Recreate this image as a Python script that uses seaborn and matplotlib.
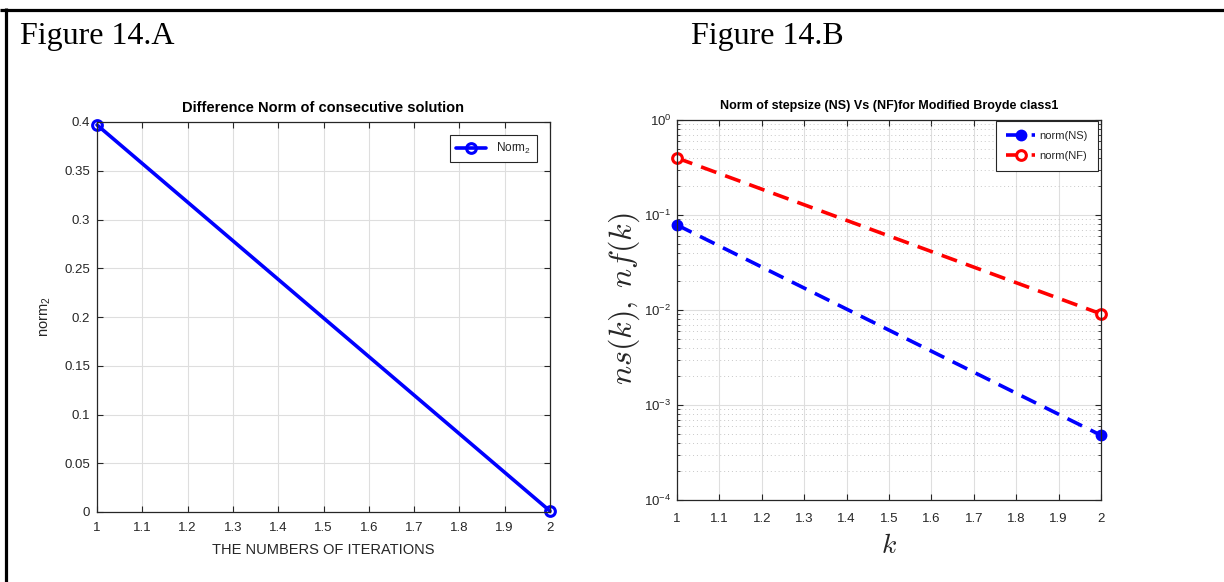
import numpy as np
import pandas as pd
import matplotlib
matplotlib.use("Agg")
import matplotlib.pyplot as plt
from matplotlib.lines import Line2D
from matplotlib.ticker import LogLocator, NullFormatter, FixedLocator
import seaborn as sns

# ---------------- data ----------------
iterations = [1, 2]
norm2 = [0.397, 0.001]
k_vals = [1, 2]
norm_ns = [0.0785, 0.00048]
norm_nf = [0.398, 0.0091]
x_ticks = [1, 1.1, 1.2, 1.3, 1.4, 1.5, 1.6, 1.7, 1.8, 1.9, 2]
x_tick_labels = ["1", "1.1", "1.2", "1.3", "1.4", "1.5", "1.6", "1.7", "1.8", "1.9", "2"]
y_ticks_a = [0, 0.05, 0.1, 0.15, 0.2, 0.25, 0.3, 0.35, 0.4]
y_tick_labels_a = ["0", "0.05", "0.1", "0.15", "0.2", "0.25", "0.3", "0.35", "0.4"]

sns.set_style("ticks")
plt.rcParams["font.family"] = ["Liberation Sans", "DejaVu Sans"]
plt.rcParams["axes.unicode_minus"] = False

DARK = "#262626"
GRID = "#dedede"

fig = plt.figure(figsize=(12.24, 5.82), dpi=100)

# frame lines of the figure
fig.add_artist(Line2D([0.0, 1.0], [1 - 9.5 / 582, 1 - 9.5 / 582], transform=fig.transFigure,
                      color="black", lw=2.3, solid_capstyle="butt"))
fig.add_artist(Line2D([5.5 / 1224, 5.5 / 1224], [0.0, 1 - 8 / 582], transform=fig.transFigure,
                      color="black", lw=2.3, solid_capstyle="butt"))

fig.text(20 / 1224, 1 - 44 / 582, "Figure 14.A", family="Liberation Serif", fontsize=23,
         va="baseline", ha="left", color="black")
fig.text(691 / 1224, 1 - 44 / 582, "Figure 14.B", family="Liberation Serif", fontsize=23,
         va="baseline", ha="left", color="black")


def style_axes(ax, xpad, ypad):
    for sp in ax.spines.values():
        sp.set_visible(True)
        sp.set_color(DARK)
        sp.set_linewidth(0.9)
    ax.tick_params(which="both", direction="in", top=True, right=True, colors=DARK,
                   labelsize=9.5, labelcolor=DARK)
    ax.tick_params(which="major", length=4, width=0.8)
    ax.tick_params(which="minor", length=2.2, width=0.6)
    ax.tick_params(axis="x", which="both", pad=xpad)
    ax.tick_params(axis="y", which="both", pad=ypad)


# ---------------- Figure 14.A ----------------
ax1 = fig.add_axes([97 / 1224, 1 - 512 / 582, 453 / 1224, 390 / 582])
dfa = pd.DataFrame({"it": iterations, "norm": norm2})
sns.lineplot(data=dfa, x="it", y="norm", ax=ax1, color="#0000ff", lw=2.6, marker="o",
             markersize=7, markerfacecolor="none", markeredgecolor="#0000ff",
             markeredgewidth=2.2, label="Norm$_\\mathdefault{2}$", clip_on=False)
ax1.set_xlim(1, 2)
ax1.set_ylim(0, 0.4)
ax1.xaxis.set_major_locator(FixedLocator(x_ticks))
ax1.set_xticklabels(x_tick_labels)
ax1.yaxis.set_major_locator(FixedLocator(y_ticks_a))
ax1.set_yticklabels(y_tick_labels_a)
ax1.grid(True, which="major", color=GRID, lw=0.8)
ax1.set_axisbelow(True)
style_axes(ax1, xpad=7.5, ypad=5)
ax1.set_title("Difference Norm of consecutive solution", fontsize=10.5, fontweight="bold",
              color="black", pad=7)
ax1.set_xlabel("THE NUMBERS OF ITERATIONS", fontsize=10.5, color=DARK, labelpad=6)
ax1.set_ylabel("norm$_\\mathdefault{2}$", fontsize=10.5, color=DARK, labelpad=8)
leg1 = ax1.legend(loc="upper right", bbox_to_anchor=(0.971, 0.967), borderaxespad=0,
                  fontsize=8.5, fancybox=False, framealpha=1, edgecolor=DARK,
                  handlelength=2.6, borderpad=0.5)
leg1.get_frame().set_linewidth(0.8)

# ---------------- Figure 14.B ----------------
ax2 = fig.add_axes([677 / 1224, 1 - 500 / 582, 424 / 1224, 380 / 582])
dfb = pd.DataFrame({"k": k_vals, "ns": norm_ns, "nf": norm_nf})
sns.lineplot(data=dfb, x="k", y="ns", ax=ax2, color="#0000ff", lw=2.6,
             linestyle=(0, (4.5, 2.6)), marker="o", markersize=7, markerfacecolor="#0000ff",
             markeredgecolor="#0000ff", markeredgewidth=1.5, label="norm(NS)", clip_on=False)
sns.lineplot(data=dfb, x="k", y="nf", ax=ax2, color="#ff0000", lw=2.6,
             linestyle=(0, (4.5, 2.6)), marker="o", markersize=7, markerfacecolor="white",
             markeredgecolor="#ff0000", markeredgewidth=2.2, label="norm(NF)", clip_on=False)
ax2.set_yscale("log")
ax2.set_xlim(1, 2)
ax2.set_ylim(1e-4, 1)
ax2.xaxis.set_major_locator(FixedLocator(x_ticks))
ax2.set_xticklabels(x_tick_labels)
ax2.yaxis.set_major_locator(LogLocator(base=10, numticks=10))
ax2.yaxis.set_minor_locator(LogLocator(base=10, subs=np.arange(2, 10), numticks=20))
ax2.yaxis.set_minor_formatter(NullFormatter())
ax2.grid(True, which="major", color=GRID, lw=0.8)
ax2.grid(True, which="minor", axis="y", color="#c8c8c8", lw=0.7, linestyle=(0, (1, 3)))
ax2.set_axisbelow(True)
style_axes(ax2, xpad=9, ypad=4)
ax2.set_title("Norm of stepsize (NS) Vs (NF)for Modified Broyde class1", fontsize=9,
              fontweight="bold", color="black", pad=8)
ax2.set_xlabel("$k$", fontsize=20, color=DARK, math_fontfamily="cm", labelpad=6)
ax2.set_ylabel("$ns(k),\\;nf(k)$", fontsize=23, color=DARK, math_fontfamily="cm",
               labelpad=0)
ax2.yaxis.set_label_coords(-0.082, 0.53)
leg2 = ax2.legend(loc="upper right", bbox_to_anchor=(0.993, 0.997), borderaxespad=0,
                  fontsize=8, fancybox=False, framealpha=1, edgecolor=DARK,
                  handlelength=2.6, borderpad=0.9, labelspacing=0.85, handletextpad=0.4)
leg2.get_frame().set_linewidth(0.8)

fig.savefig("out.png", dpi=100)
